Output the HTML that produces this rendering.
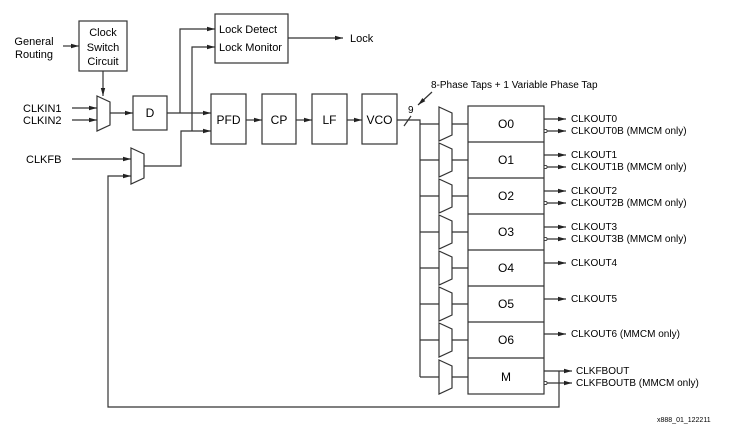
<!DOCTYPE html>
<html><head><style>body{margin:0;background:#fff}svg{display:block}text{font-family:"Liberation Sans",Arial,sans-serif;fill:#000}</style></head><body>
<svg width="730" height="432" viewBox="0 0 730 432" xmlns="http://www.w3.org/2000/svg">
<defs><marker id="a" markerWidth="8" markerHeight="6" refX="8" refY="3" orient="auto" markerUnits="userSpaceOnUse"><path d="M0,0.8 L8,3 L0,5.2z" fill="#222"/></marker></defs>
<g stroke="#333" stroke-width="1.2" fill="none">
<rect x="79" y="21" width="48" height="50" fill="#fff"/>
<rect x="215" y="14" width="73" height="49"/>
<rect x="133" y="96" width="34" height="34"/>
<rect x="211" y="94" width="35" height="50"/>
<rect x="262" y="94" width="34" height="50"/>
<rect x="312" y="94" width="35" height="50"/>
<rect x="362" y="94" width="35" height="50"/>
<path d="M97,96 L110,102 L110,125 L97,131z"/>
<path d="M131,148 L144,154 L144,178 L131,184z"/>
<path d="M63,46 L79,46" marker-end="url(#a)"/>
<path d="M103,71 L103,96" marker-end="url(#a)"/>
<path d="M72,108 L97,108" marker-end="url(#a)"/>
<path d="M72,120 L97,120" marker-end="url(#a)"/>
<path d="M110,113 L133,113" marker-end="url(#a)"/>
<path d="M167,113 L211,113" marker-end="url(#a)"/>
<path d="M180,113 L180,29 L215,29" marker-end="url(#a)"/>
<path d="M192,131 L192,47 L215,47" marker-end="url(#a)"/>
<path d="M144,166 L181,166 L181,131 L211,131" marker-end="url(#a)"/>
<path d="M72,159 L131,159" marker-end="url(#a)"/>
<path d="M288,38 L343,38" marker-end="url(#a)"/>
<path d="M246,120 L262,120" marker-end="url(#a)"/>
<path d="M296,120 L312,120" marker-end="url(#a)"/>
<path d="M347,120 L362,120" marker-end="url(#a)"/>
<path d="M397,120 L420,120 L420,377"/>
<path d="M404,126 L411,116"/>
<path d="M432,92 L418,105" marker-end="url(#a)"/>
<rect x="468" y="106" width="76" height="288"/>
<path d="M468,142H544M468,178H544M468,214H544M468,250H544M468,286H544M468,322H544M468,358H544"/>
<g id="m"><path d="M439,107 L452,113 L452,135 L439,141z"/><path d="M420,124H439M452,124H468"/></g>
<use href="#m" y="36"/><use href="#m" y="72"/><use href="#m" y="108"/><use href="#m" y="144"/><use href="#m" y="180"/><use href="#m" y="216"/><use href="#m" y="253"/>
<path d="M544,119H566" marker-end="url(#a)"/><path d="M547,131H566" marker-end="url(#a)"/>
<path d="M544,155H566" marker-end="url(#a)"/><path d="M547,167H566" marker-end="url(#a)"/>
<path d="M544,191H566" marker-end="url(#a)"/><path d="M547,203H566" marker-end="url(#a)"/>
<path d="M544,227H566" marker-end="url(#a)"/><path d="M547,239H566" marker-end="url(#a)"/>
<path d="M544,263H566" marker-end="url(#a)"/>
<path d="M544,299H566" marker-end="url(#a)"/>
<path d="M544,334H566" marker-end="url(#a)"/>
<path d="M544,371H572" marker-end="url(#a)"/><path d="M547,383H572" marker-end="url(#a)"/>
<path d="M559,371 L559,407 L108,407 L108,176 L131,176" marker-end="url(#a)"/>
</g>
<g fill="#fff" stroke="#333" stroke-width="0.9"><circle cx="545.5" cy="131" r="1.6"/><circle cx="545.5" cy="167" r="1.6"/><circle cx="545.5" cy="203" r="1.6"/><circle cx="545.5" cy="239" r="1.6"/><circle cx="545.5" cy="383" r="1.6"/></g>
<g font-size="11">
<text x="34" y="45" text-anchor="middle">General</text><text x="34" y="58" text-anchor="middle">Routing</text>
<text x="103" y="36" text-anchor="middle">Clock</text><text x="103" y="51" text-anchor="middle">Switch</text><text x="103" y="65" text-anchor="middle">Circuit</text>
<text x="219" y="33">Lock Detect</text><text x="219" y="51">Lock Monitor</text>
<text x="350" y="42">Lock</text>
<text x="23" y="112">CLKIN1</text><text x="23" y="124">CLKIN2</text>
<text x="26" y="163">CLKFB</text>
<text x="408" y="113" font-size="10">9</text>
<text x="431" y="88" font-size="10">8-Phase Taps + 1 Variable Phase Tap</text>
</g>
<g font-size="12" text-anchor="middle">
<text x="150" y="117">D</text><text x="228.5" y="124">PFD</text><text x="279" y="124">CP</text><text x="329.5" y="124">LF</text><text x="379.5" y="124">VCO</text>
<text x="506" y="128">O0</text><text x="506" y="164">O1</text><text x="506" y="200">O2</text><text x="506" y="236">O3</text><text x="506" y="272">O4</text><text x="506" y="308">O5</text><text x="506" y="344">O6</text><text x="506" y="381">M</text>
</g>
<g font-size="10">
<text x="571" y="122">CLKOUT0</text><text x="571" y="134">CLKOUT0B (MMCM only)</text>
<text x="571" y="158">CLKOUT1</text><text x="571" y="170">CLKOUT1B (MMCM only)</text>
<text x="571" y="194">CLKOUT2</text><text x="571" y="206">CLKOUT2B (MMCM only)</text>
<text x="571" y="230">CLKOUT3</text><text x="571" y="242">CLKOUT3B (MMCM only)</text>
<text x="571" y="266">CLKOUT4</text><text x="571" y="302">CLKOUT5</text><text x="571" y="337">CLKOUT6 (MMCM only)</text>
<text x="576" y="374">CLKFBOUT</text><text x="576" y="386">CLKFBOUTB (MMCM only)</text>
<text x="657" y="422" font-size="7">x888_01_122211</text>
</g>
</svg>
</body></html>
